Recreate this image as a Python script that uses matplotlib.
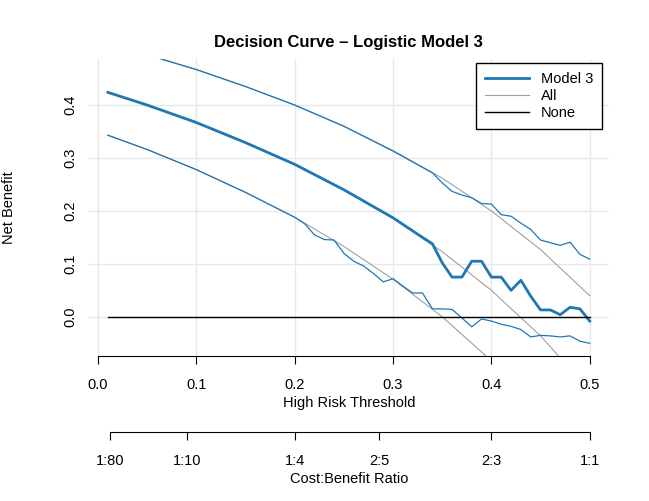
import matplotlib.pyplot as plt
from matplotlib.lines import Line2D
import numpy as np

plt.rcParams['font.family'] = ['Liberation Sans', 'DejaVu Sans']

# Model 3 net benefit
t_model = [0.01, 0.05, 0.10, 0.15, 0.20, 0.25, 0.30, 0.33, 0.34, 0.35, 0.36, 0.37, 0.38, 0.39,
           0.40, 0.41, 0.42, 0.43, 0.44, 0.45, 0.46, 0.47, 0.48, 0.49, 0.50]
nb_model = [0.424, 0.400, 0.367, 0.329, 0.288, 0.240, 0.187, 0.150, 0.138, 0.102, 0.075, 0.075,
            0.105, 0.105, 0.075, 0.075, 0.050, 0.069, 0.039, 0.013, 0.013, 0.004, 0.018, 0.015, -0.008]

# confidence bands
t_up = [0.01, 0.05, 0.10, 0.15, 0.20, 0.25, 0.30, 0.34, 0.35, 0.36, 0.37, 0.38, 0.39, 0.40,
        0.41, 0.42, 0.43, 0.44, 0.45, 0.46, 0.47, 0.48, 0.49, 0.50]
nb_up = [0.520, 0.495, 0.467, 0.435, 0.400, 0.360, 0.313, 0.272, 0.253, 0.237, 0.230, 0.225,
         0.214, 0.213, 0.193, 0.190, 0.177, 0.165, 0.145, 0.140, 0.135, 0.141, 0.118, 0.109]
t_lo = [0.01, 0.05, 0.10, 0.15, 0.20, 0.21, 0.22, 0.23, 0.24, 0.25, 0.26, 0.27, 0.28, 0.29,
        0.30, 0.31, 0.32, 0.33, 0.34, 0.35, 0.36, 0.37, 0.38, 0.39, 0.40, 0.41, 0.42, 0.43,
        0.44, 0.45, 0.46, 0.47, 0.48, 0.49, 0.50]
nb_lo = [0.343, 0.316, 0.278, 0.235, 0.188, 0.176, 0.155, 0.146, 0.145, 0.120, 0.105, 0.096,
         0.082, 0.066, 0.072, 0.058, 0.045, 0.045, 0.015, 0.015, 0.014, -0.002, -0.019, -0.004,
         -0.008, -0.014, -0.018, -0.024, -0.038, -0.035, -0.036, -0.038, -0.036, -0.046, -0.050]

# treat-all curves (upper, point, lower)
t_all = [0.01, 0.05, 0.10, 0.15, 0.20, 0.25, 0.30, 0.35, 0.40, 0.45, 0.50]
nb_all_up = [0.515, 0.495, 0.467, 0.435, 0.400, 0.360, 0.314, 0.262, 0.200, 0.127, 0.040]
nb_all = [0.424, 0.400, 0.367, 0.329, 0.288, 0.240, 0.186, 0.123, 0.050, -0.036, -0.140]
nb_all_lo = [0.343, 0.316, 0.278, 0.235, 0.188, 0.133, 0.071, 0.000, -0.083, -0.182, -0.300]

cb_ticks = [1/81, 1/11, 0.2, 2/7, 0.4, 0.5]
cb_labels = ["1:80", "1:10", "1:4", "2:5", "2:3", "1:1"]

blue = "#1f77b4"
fig = plt.figure(figsize=(6.49, 5.01), dpi=100)
W, H = 649, 501
L, R = 88.6, 609
ax = fig.add_axes([L/W, 1-356/H, (R-L)/W, (356-59)/H])
ax.set_xlim(-0.0096, 0.5196)
ax.set_ylim(-0.074, 0.487)
ax.grid(True, color="#e8e8e8", linewidth=1)
ax.set_axisbelow(True)

for yy in (nb_all_up, nb_all, nb_all_lo):
    ax.plot(t_all, yy, color="#a0a0a0", linewidth=0.8)
ax.plot(t_up, nb_up, color=blue, linewidth=0.9)
ax.plot(t_lo, nb_lo, color=blue, linewidth=0.9)
ax.plot(t_model, nb_model, color=blue, linewidth=2)
ax.plot([0.01, 0.5], [0, 0], color="black", linewidth=1)

for s in ("top", "right", "left"):
    ax.spines[s].set_visible(False)
ax.spines["bottom"].set_bounds(0, 0.5)
ax.set_xticks([0, 0.1, 0.2, 0.3, 0.4, 0.5])
ax.set_xticklabels(["0.0", "0.1", "0.2", "0.3", "0.4", "0.5"], fontsize=10.5)
ax.tick_params(axis="x", length=6, pad=10)
ax.set_yticks([0, 0.1, 0.2, 0.3, 0.4])
ax.set_yticklabels(["0.0", "0.1", "0.2", "0.3", "0.4"], rotation=90, va="center", fontsize=10.5)
ax.tick_params(axis="y", length=0, pad=8)
ax.set_xlabel("High Risk Threshold", fontsize=10.5, labelpad=3)
ax.set_ylabel("Net Benefit", fontsize=10.5, labelpad=34)
ax.set_title("Decision Curve \u2013 Logistic Model 3", fontsize=12, fontweight="bold", pad=9)

handles = [Line2D([], [], color=blue, lw=2), Line2D([], [], color="#a0a0a0", lw=0.8),
           Line2D([], [], color="black", lw=1)]
leg = ax.legend(handles, ["Model 3", "All", "None"], loc="upper right", fontsize=10.5,
                fancybox=False, edgecolor="black", framealpha=1, borderpad=0.6,
                handlelength=3, labelspacing=0.2, bbox_to_anchor=(1.0, 1.01))
leg.get_frame().set_linewidth(1)

ax2 = fig.add_axes([L/W, 1-432/H, (R-L)/W, 0.001])
ax2.set_xlim(ax.get_xlim())
for s in ("top", "right", "left"):
    ax2.spines[s].set_visible(False)
ax2.spines["bottom"].set_bounds(cb_ticks[0], cb_ticks[-1])
ax2.set_yticks([])
ax2.set_xticks(cb_ticks)
ax2.set_xticklabels(cb_labels, fontsize=10.5)
ax2.tick_params(axis="x", length=6, pad=10)
ax2.set_xlabel("Cost:Benefit Ratio", fontsize=10.5, labelpad=3)
ax2.patch.set_visible(False)

fig.savefig("out.png", dpi=100)
